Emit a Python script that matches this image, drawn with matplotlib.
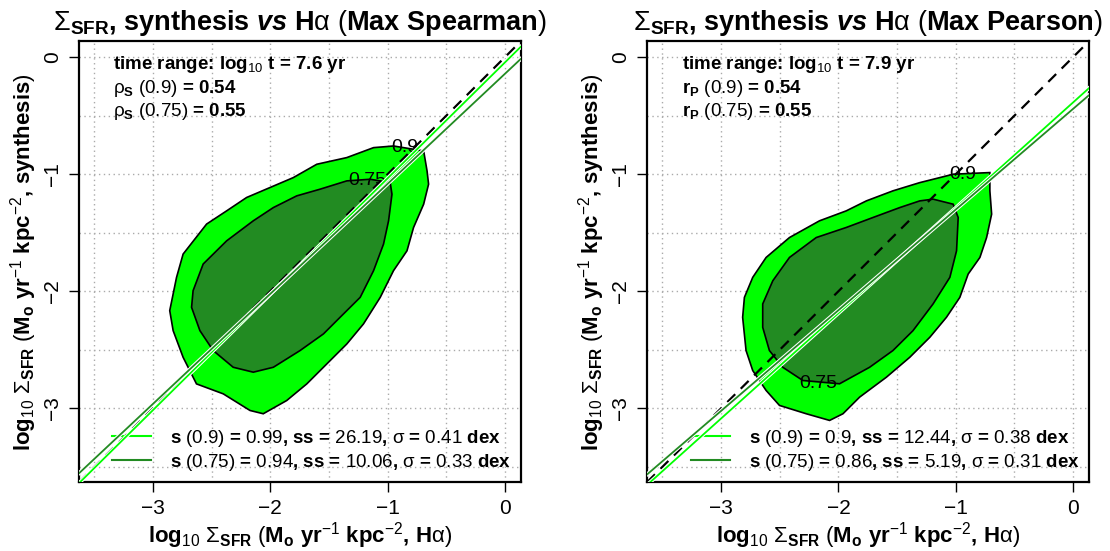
import matplotlib
matplotlib.use("Agg")
import matplotlib.pyplot as plt
import matplotlib.patheffects as pe
from matplotlib.lines import Line2D

plt.rcParams['font.family'] = ['Liberation Sans', 'DejaVu Sans']
plt.rcParams['mathtext.fontset'] = 'custom'
plt.rcParams['mathtext.rm'] = 'Liberation Sans'
plt.rcParams['mathtext.it'] = 'Liberation Sans:italic'
plt.rcParams['mathtext.bf'] = 'Liberation Sans:bold'
plt.rcParams['mathtext.bfit'] = 'Liberation Sans:italic:bold'
plt.rcParams['mathtext.sf'] = 'Liberation Sans'

# ---- data ----
titles = [r"$\mathrm{\Sigma}_{\mathbf{SFR}}$, synthesis $\mathbfit{vs}$ H$\mathrm{\alpha}$ $\mathrm{(}$Max Spearman$\mathrm{)}$",
          r"$\mathrm{\Sigma}_{\mathbf{SFR}}$, synthesis $\mathbfit{vs}$ H$\mathrm{\alpha}$ $\mathrm{(}$Max Pearson$\mathrm{)}$"]
log_t = [7.6, 7.9]
corr_sym = [r"$\mathrm{\rho}_{\mathbf{S}}$", r"r$_{\mathbf{P}}$"]
corr_09 = [0.54, 0.54]
corr_075 = [0.55, 0.55]

slope_09 = [0.99, 0.9]
slope_075 = [0.94, 0.86]
icpt_09 = [-0.045, -0.387]
icpt_075 = [-0.142, -0.442]
ss_09 = [26.19, 12.44]
ss_075 = [10.06, 5.19]
sig_09 = [0.41, 0.38]
sig_075 = [0.33, 0.31]

# 0.9 and 0.75 contour outlines (log Sigma Halpha, log Sigma synthesis)
c09_x_left = [-0.950, -0.693, -0.664, -0.651, -0.693, -0.779, -0.835, -0.950, -1.063, -1.206,
              -1.348, -1.518, -1.689, -1.860, -2.060, -2.173, -2.401, -2.629, -2.743, -2.828,
              -2.857, -2.799, -2.743, -2.543, -2.372, -2.202, -2.003, -1.804, -1.604, -1.348, -1.120]
c09_y_left = [-0.759, -0.801, -0.972, -1.085, -1.256, -1.455, -1.654, -1.824, -2.052, -2.279,
              -2.450, -2.620, -2.791, -2.933, -3.046, -3.018, -2.876, -2.791, -2.564, -2.336,
              -2.165, -1.881, -1.682, -1.426, -1.313, -1.199, -1.114, -1.029, -0.915, -0.858, -0.773]
c075_x_left = [-0.978, -0.963, -0.992, -1.035, -1.120, -1.234, -1.405, -1.547, -1.746, -1.974,
               -2.145, -2.316, -2.487, -2.600, -2.671, -2.658, -2.572, -2.372, -2.145, -1.974,
               -1.775, -1.576, -1.348, -1.149]
c075_y_left = [-1.072, -1.171, -1.398, -1.597, -1.824, -2.052, -2.222, -2.364, -2.506, -2.649,
               -2.691, -2.649, -2.506, -2.336, -2.137, -1.995, -1.767, -1.569, -1.398, -1.285,
               -1.185, -1.128, -1.057, -1.043]
c09_x_right = [-1.022, -0.709, -0.709, -0.694, -0.737, -0.794, -0.894, -0.965, -1.079, -1.221,
               -1.392, -1.591, -1.819, -1.961, -2.075, -2.274, -2.502, -2.616, -2.730, -2.787,
               -2.816, -2.801, -2.730, -2.616, -2.417, -2.161, -1.933, -1.762, -1.535, -1.307, -1.136]
c09_y_right = [-1.000, -0.986, -1.142, -1.341, -1.541, -1.711, -1.853, -2.052, -2.222, -2.393,
               -2.564, -2.734, -2.904, -3.046, -3.103, -3.046, -2.975, -2.847, -2.677, -2.506,
               -2.222, -2.052, -1.881, -1.711, -1.541, -1.398, -1.313, -1.228, -1.142, -1.072, -1.029]
c075_x_right = [-1.193, -1.022, -0.979, -0.993, -1.050, -1.193, -1.364, -1.535, -1.734, -1.990,
                -2.303, -2.474, -2.588, -2.645, -2.645, -2.559, -2.417, -2.189, -1.933, -1.706,
                -1.477, -1.307]
c075_y_right = [-1.213, -1.256, -1.370, -1.654, -1.881, -2.108, -2.336, -2.506, -2.649, -2.790,
                -2.762, -2.649, -2.506, -2.308, -2.108, -1.910, -1.711, -1.541, -1.455, -1.370,
                -1.285, -1.228]
c09_x = [c09_x_left, c09_x_right]
c09_y = [c09_y_left, c09_y_right]
c075_x = [c075_x_left, c075_x_right]
c075_y = [c075_y_left, c075_y_right]
lab09_xy = [(-0.85, -0.77), (-0.94, -1.0)]
lab075_xy = [(-1.17, -1.05), (-2.17, -2.79)]

ticks = [-3, -2, -1, 0]
grid_pos = [-3.5, -3, -2.5, -2, -1.5, -1, -0.5, 0]
lims = (-3.63, 0.135)

light = '#00FF00'
dark = '#228B22'

fig = plt.figure(figsize=(11.1, 5.51), dpi=100)
axes = [fig.add_axes([0.0712, 0.125, 0.398, 0.800]),
        fig.add_axes([0.583, 0.125, 0.398, 0.800])]

for i, ax in enumerate(axes):
    ax.set_xlim(lims)
    ax.set_ylim(lims)
    for g in grid_pos:
        ax.axvline(g, color='#aaaaaa', ls=(0, (1, 2.5)), lw=1, zorder=0)
        ax.axhline(g, color='#aaaaaa', ls=(0, (1, 2.5)), lw=1, zorder=0)

    ax.fill(c09_x[i], c09_y[i], facecolor=light, edgecolor='black', lw=1.2, zorder=2)
    ax.fill(c075_x[i], c075_y[i], facecolor=dark, edgecolor='black', lw=1.2, zorder=3)
    ax.text(*lab09_xy[i], '0.9', fontsize=14, ha='center', va='center', zorder=4)
    ax.text(*lab075_xy[i], '0.75', fontsize=14, ha='center', va='center', zorder=4)

    ax.axline((0, 0), slope=1, color='black', lw=1.6, ls=(0, (5, 3.5)), zorder=5)
    halo = [pe.Stroke(linewidth=2.8, foreground='white'), pe.Normal()]
    ax.axline((0, icpt_09[i]), slope=slope_09[i], color=light, lw=1.3, zorder=6,
              path_effects=halo)
    ax.axline((0, icpt_075[i]), slope=slope_075[i], color=dark, lw=1.3, zorder=6,
              path_effects=halo)

    ax.set_xticks(ticks)
    ax.set_yticks(ticks)
    ax.set_xticklabels(['\u22123', '\u22122', '\u22121', '0'])
    ax.set_yticklabels(['\u22123', '\u22122', '\u22121', '0'], rotation=90, va='center')
    ax.tick_params(direction='out', length=7, width=1, labelsize=15, pad=5)
    for sp in ax.spines.values():
        sp.set_linewidth(1.6)

    ax.set_title(titles[i], fontsize=19.5, fontweight='bold', pad=8)
    ax.set_xlabel(r"log$_{10}$ $\mathrm{\Sigma}_{\mathbf{SFR}}$ $\mathrm{(}$M$_{\mathbf{o}}$ yr$^{-1}$ kpc$^{-2}$, H$\mathrm{\alpha}\mathrm{)}$",
                  fontsize=16, fontweight='bold', labelpad=2)
    ax.set_ylabel(r"log$_{10}$ $\mathrm{\Sigma}_{\mathbf{SFR}}$ $\mathrm{(}$M$_{\mathbf{o}}$ yr$^{-1}$ kpc$^{-2}$, synthesis$\mathrm{)}$",
                  fontsize=16, fontweight='bold', labelpad=3)

    ax.text(0.078, 0.948, r"time range: log$_{10}$ t = %.1f yr" % log_t[i],
            transform=ax.transAxes, fontsize=13.5, fontweight='bold', va='center')
    ax.text(0.078, 0.894, corr_sym[i] + r" $\mathrm{(0.9)}$ = %.2f" % corr_09[i],
            transform=ax.transAxes, fontsize=13.5, fontweight='bold', va='center')
    ax.text(0.078, 0.841, corr_sym[i] + r" $\mathrm{(0.75)}$ = %.2f" % corr_075[i],
            transform=ax.transAxes, fontsize=13.5, fontweight='bold', va='center')

    lab1 = r"s $\mathrm{(0.9)}$ = $\mathrm{%g}$, ss = $\mathrm{%.2f}$, $\mathrm{\sigma}$ = $\mathrm{%.2f}$ dex" % (
        slope_09[i], ss_09[i], sig_09[i])
    lab2 = r"s $\mathrm{(0.75)}$ = $\mathrm{%g}$, ss = $\mathrm{%.2f}$, $\mathrm{\sigma}$ = $\mathrm{%.2f}$ dex" % (
        slope_075[i], ss_075[i], sig_075[i])
    handles = [Line2D([], [], color=light, lw=1.5), Line2D([], [], color=dark, lw=1.5)]
    ax.legend(handles, [lab1, lab2], loc='lower right', frameon=False,
              prop={'size': 13.5, 'weight': 'bold'}, handlelength=2.1, handletextpad=1.0,
              labelspacing=0.15, borderaxespad=0.3, borderpad=0.2)

fig.savefig('out.png', dpi=100)
